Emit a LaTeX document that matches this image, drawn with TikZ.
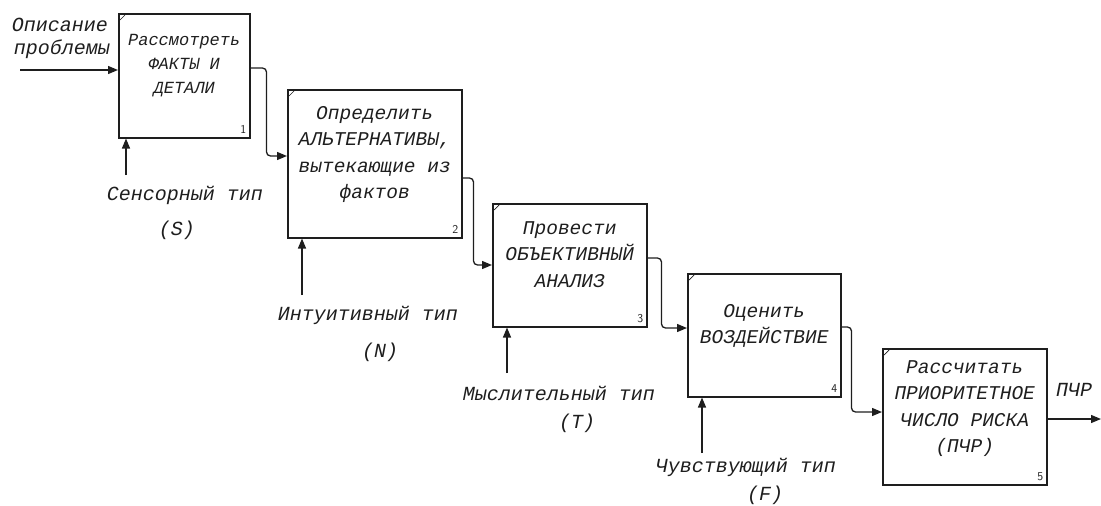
\documentclass[tikz,border=0pt]{standalone}
\usepackage{fontspec}
\setmonofont{Liberation Mono}
\usetikzlibrary{positioning,arrows.meta}
\definecolor{ink}{HTML}{1E1E1E}
\begin{document}
\begin{tikzpicture}[
  x=1pt,y=-1pt,
  font={\ttfamily\itshape\fontsize{19.5}{26.5}\selectfont},
  box/.style={draw=ink,line width=1.5pt,inner sep=0pt,anchor=north west},
  txt/.style={align=center,inner sep=0pt,anchor=north,text=ink},
  lab/.style={inner sep=0pt,text=ink,font={\ttfamily\itshape\fontsize{20}{24}\selectfont}},
  num/.style={inner sep=0pt,anchor=south east,text=ink,font={\sffamily\fontsize{12}{12}\selectfont}},
  ar/.style={-{Triangle[length=10pt,width=8pt]},line width=1.3pt,draw=ink,rounded corners=4pt}]
  \useasboundingbox (0,0) rectangle (1101,506);
  \node[box,minimum width=131pt,minimum height=124pt] (b1) at (118,13) {};
  \node[box,minimum width=174pt,minimum height=148pt] (b2) at (287,89) {};
  \node[box,minimum width=154pt,minimum height=123pt] (b3) at (492,203) {};
  \node[box,minimum width=153pt,minimum height=123pt] (b4) at (687,273) {};
  \node[box,minimum width=164pt,minimum height=136pt] (b5) at (882,348) {};
  \foreach \i in {1,...,5} {
    \draw[ink,line width=0.7pt] ([shift={(2pt,-7pt)}]b\i.north west) -- ([shift={(7pt,-2pt)}]b\i.north west);
    \node[num] (n\i) at ([shift={(-4pt,5pt)}]b\i.south east) {\i};
  }
  \node[txt,font={\ttfamily\itshape\fontsize{17}{24}\selectfont}] (t1) at ([yshift=-21pt]b1.north) {Рассмотреть\\ФАКТЫ И\\ДЕТАЛИ};
  \node[txt] (t2) at ([yshift=-17pt]b2.north) {Определить\\АЛЬТЕРНАТИВЫ,\\вытекающие из\\фактов};
  \node[txt] (t3) at ([yshift=-18pt]b3.north) {Провести\\ОБЪЕКТИВНЫЙ\\АНАЛИЗ};
  \node[txt] (t4) at ([yshift=-31pt]b4.north) {Оценить\\ВОЗДЕЙСТВИЕ};
  \node[txt] (t5) at ([yshift=-12pt]b5.north) {Рассчитать\\ПРИОРИТЕТНОЕ\\ЧИСЛО РИСКА\\(ПЧР)};
  \node[lab] (inA) at (60,25) {Описание};
  \node[lab] (inB) at (62,49) {проблемы};
  \node[lab] (lab1) at (185,195) {Сенсорный тип};
  \node[lab] (lab1b) at (177,230) {(S)};
  \node[lab] (lab2) at (368,315) {Интуитивный тип};
  \node[lab] (lab2b) at (380,352) {(N)};
  \node[lab] (lab3) at (559,393) {Мыслительный тип};
  \node[lab] (lab3b) at (577,423) {(T)};
  \node[lab] (lab4) at (746,467) {Чувствующий тип};
  \node[lab] (lab4b) at (765,495) {(F)};
  \node[lab] (outA) at (1074,390) {ПЧР};
  \coordinate (in1) at (20,70);
  \coordinate (c1) at (126,175);
  \coordinate (c2) at (302,295);
  \coordinate (c3) at (507,373);
  \coordinate (c4) at (702,453);
  \coordinate (out5) at (1101,419);
  \coordinate (o1) at ([yshift=-55pt]b1.north east);
  \coordinate (i2) at ([yshift=-67pt]b2.north west);
  \coordinate (o2) at ([yshift=-89pt]b2.north east);
  \coordinate (i3) at ([yshift=-62pt]b3.north west);
  \coordinate (o3) at ([yshift=-55pt]b3.north east);
  \coordinate (i4) at ([yshift=-55pt]b4.north west);
  \coordinate (o4) at ([yshift=-54pt]b4.north east);
  \coordinate (i5) at ([yshift=-64pt]b5.north west);
  \coordinate (o5) at ([yshift=-71pt]b5.north east);
  \draw[ar] (in1) -- (in1 -| b1.west);
  \draw[ar] (o1) -- ++(16,0) |- (i2);
  \draw[ar] (o2) -- ++(11,0) |- (i3);
  \draw[ar] (o3) -- ++(14,0) |- (i4);
  \draw[ar] (o4) -- ++(10,0) |- (i5);
  \draw[ar] (o5) -- (o5 -| out5);
  \draw[ar] (c1) -- (c1 |- b1.south);
  \draw[ar] (c2) -- (c2 |- b2.south);
  \draw[ar] (c3) -- (c3 |- b3.south);
  \draw[ar] (c4) -- (c4 |- b4.south);
\end{tikzpicture}
\end{document}
